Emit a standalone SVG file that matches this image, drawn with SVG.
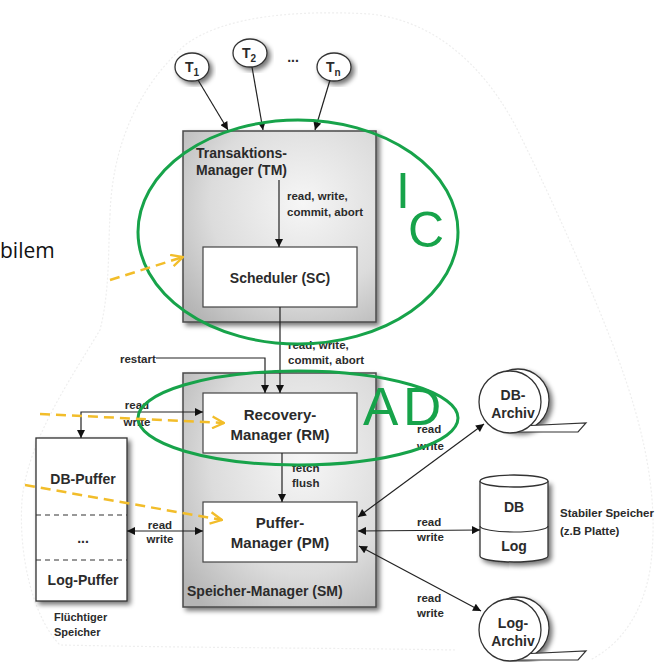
<svg xmlns="http://www.w3.org/2000/svg" width="664" height="662" viewBox="0 0 664 662">
<defs>
<style>
.t{font-family:"Liberation Sans",Arial,sans-serif;font-weight:bold;fill:#2b2b2b}
.s{font-size:11.5px}
.m{font-size:14px}
.l{font-size:15px}
.c{text-anchor:middle}
.ln{stroke:#222;stroke-width:1.2;fill:none}
.gray{fill:url(#gg);stroke:#4a4a4a;stroke-width:1.5}
.wb{fill:#fff;stroke:#444;stroke-width:1.2}
.grn{fill:none;stroke:#17a34a;stroke-width:3}
.gl{font-family:"Liberation Sans",Arial,sans-serif;fill:#17a34a}
.yd{fill:none;stroke:#f2bd2a;stroke-width:2.5;stroke-dasharray:10 6}
</style>
<radialGradient id="gg" cx="0.62" cy="0.38" r="0.8">
<stop offset="0" stop-color="#f6f6f6"/>
<stop offset="0.6" stop-color="#dcdcdc"/>
<stop offset="1" stop-color="#b5b5b5"/>
</radialGradient>
<filter id="sh" x="-20%" y="-20%" width="140%" height="140%">
<feGaussianBlur in="SourceAlpha" stdDeviation="2.5"/>
<feOffset dx="3" dy="3" result="b"/>
<feComponentTransfer><feFuncA type="linear" slope="0.55"/></feComponentTransfer>
<feMerge><feMergeNode/><feMergeNode in="SourceGraphic"/></feMerge>
</filter>
<marker id="ah" viewBox="0 0 10 10" refX="10" refY="5" markerWidth="9" markerHeight="8" markerUnits="userSpaceOnUse" orient="auto-start-reverse">
<path d="M0,0 L10,5 L0,10 z" fill="#111"/>
</marker>
<marker id="ya" viewBox="0 0 12 12" refX="11" refY="6" markerWidth="14" markerHeight="14" markerUnits="userSpaceOnUse" orient="auto">
<path d="M1,1 L11,6 L1,11" fill="none" stroke="#f2bd2a" stroke-width="2"/>
</marker>
</defs>
<rect width="664" height="662" fill="#fff"/>

<!-- faint outline -->
<path d="M110,215 C112,150 135,90 185,45 C225,15 300,10 370,14 C430,20 480,60 515,125 C545,185 580,260 615,350 C645,430 660,500 650,570 C642,615 620,645 590,660 M455,650 C350,648 200,648 60,645 C35,620 18,560 22,500 C28,440 70,380 100,330 C110,290 108,250 110,215" fill="none" stroke="#eeeeee" stroke-width="1.2" stroke-dasharray="2 2"/>

<text x="0" y="258" font-family="'Open Sans','Liberation Sans',sans-serif" font-size="21" fill="#111">bilem</text>

<g id="tm">
<rect class="gray" x="183" y="131" width="193" height="191" filter="url(#sh)"/>
<text class="t m" x="196" y="158">Transaktions-</text>
<text class="t m" x="196" y="175">Manager (TM)</text>
</g>
<g id="sc">
<rect class="wb" x="203" y="247" width="154" height="60"/>
<text class="t m c" x="280" y="283">Scheduler (SC)</text>
</g>
<g id="sm">
<rect class="gray" x="183" y="373" width="193" height="234" filter="url(#sh)"/>
<text class="t m" x="187" y="596">Speicher-Manager (SM)</text>
</g>
<g id="rm">
<rect class="wb" x="203" y="393" width="154" height="60"/>
<text class="t l c" x="280" y="420">Recovery-</text>
<text class="t l c" x="280" y="440">Manager (RM)</text>
</g>
<g id="pm">
<rect class="wb" x="203" y="502" width="154" height="60"/>
<text class="t l c" x="280" y="528">Puffer-</text>
<text class="t l c" x="280" y="548">Manager (PM)</text>
</g>
<g id="buffer">
<rect x="36" y="438" width="91" height="163" fill="#fff" stroke="#333" stroke-width="1.3" filter="url(#sh)"/>
<line x1="36" y1="515" x2="127" y2="515" stroke="#333" stroke-width="1.2" stroke-dasharray="5 4"/>
<line x1="36" y1="560" x2="127" y2="560" stroke="#333" stroke-width="1.2" stroke-dasharray="5 4"/>
<text class="t m c" x="83" y="484">DB-Puffer</text>
<text class="t m c" x="83" y="543">...</text>
<text class="t m c" x="83" y="585">Log-Puffer</text>
<text class="t" font-size="11" x="54" y="621">Flüchtiger</text>
<text class="t" font-size="11" x="54" y="636">Speicher</text>
</g>
<g id="t1">
<ellipse cx="192" cy="67" rx="17" ry="14" fill="#fff" stroke="#333" stroke-width="1.3" filter="url(#sh)"/>
<text class="t" font-size="14" x="185" y="72">T<tspan font-size="10" dy="4">1</tspan></text>
</g>
<g id="t2">
<ellipse cx="250" cy="53" rx="17" ry="14" fill="#fff" stroke="#333" stroke-width="1.3" filter="url(#sh)"/>
<text class="t" font-size="14" x="242" y="58">T<tspan font-size="10" dy="4">2</tspan></text>
</g>
<text class="t m c" x="293" y="62">...</text>
<g id="tn">
<ellipse cx="334" cy="67" rx="17" ry="14" fill="#fff" stroke="#333" stroke-width="1.3" filter="url(#sh)"/>
<text class="t" font-size="14" x="326" y="72">T<tspan font-size="10" dy="4">n</tspan></text>
</g>
<g id="dbarchiv">
<circle cx="518" cy="400" r="31" fill="#fff" stroke="#333" stroke-width="1.3" filter="url(#sh)"/>
<path d="M520,426 L586,423 L578,432 L508,432 Z" fill="#fff" stroke="#333" stroke-width="1.2"/>
<circle cx="510" cy="402" r="31" fill="#fff" stroke="#333" stroke-width="1.3"/>
<text class="t m c" x="513" y="400">DB-</text>
<text class="t m c" x="513" y="418">Archiv</text>
</g>
<g id="disk">
<path d="M480,481 L480,556 A34,6 0 0 0 548,556 L548,481" fill="#fff" stroke="#333" stroke-width="1.3" filter="url(#sh)"/>
<ellipse cx="514" cy="481" rx="34" ry="6" fill="#fff" stroke="#333" stroke-width="1.3"/>
<path d="M480,526 A34,6 0 0 0 548,526" fill="none" stroke="#333" stroke-width="1.2"/>
<text class="t m c" x="514" y="512">DB</text>
<text class="t m c" x="514" y="551">Log</text>
<text class="t s" x="560" y="517">Stabiler Speicher</text>
<text class="t s" x="560" y="535">(z.B Platte)</text>
</g>
<g id="logarchiv">
<circle cx="518" cy="628" r="31" fill="#fff" stroke="#333" stroke-width="1.3" filter="url(#sh)"/>
<path d="M520,654 L586,651 L578,660 L508,660 Z" fill="#fff" stroke="#333" stroke-width="1.2"/>
<circle cx="510" cy="630" r="31" fill="#fff" stroke="#333" stroke-width="1.3"/>
<text class="t m c" x="513" y="628">Log-</text>
<text class="t m c" x="513" y="646">Archiv</text>
</g>

<g id="connectors">
<line class="ln" x1="198" y1="80" x2="228" y2="130" marker-end="url(#ah)"/>
<line class="ln" x1="252" y1="67" x2="263" y2="130" marker-end="url(#ah)"/>
<line class="ln" x1="330" y1="80" x2="315" y2="130" marker-end="url(#ah)"/>
<line class="ln" x1="279" y1="180" x2="279" y2="247" marker-end="url(#ah)"/>
<line class="ln" x1="280" y1="307" x2="280" y2="393" marker-end="url(#ah)"/>
<polyline class="ln" points="156,358 265,358 265,393" marker-end="url(#ah)"/>
<line class="ln" x1="282" y1="453" x2="282" y2="502" marker-end="url(#ah)"/>
<polyline class="ln" points="203,412 81,412 81,438" marker-start="url(#ah)" marker-end="url(#ah)"/>
<line class="ln" x1="127" y1="531" x2="203" y2="531" marker-start="url(#ah)" marker-end="url(#ah)"/>
<line class="ln" x1="358" y1="517" x2="484" y2="424" marker-start="url(#ah)" marker-end="url(#ah)"/>
<line class="ln" x1="358" y1="531" x2="480" y2="530" marker-start="url(#ah)" marker-end="url(#ah)"/>
<line class="ln" x1="359" y1="546" x2="481" y2="611" marker-start="url(#ah)" marker-end="url(#ah)"/>
</g>
<g id="labels">
<text class="t s" x="287" y="200">read, write,</text>
<text class="t s" x="287" y="216">commit, abort</text>
<text class="t s" x="288" y="349">read, write,</text>
<text class="t s" x="288" y="364">commit, abort</text>
<text class="t s" x="120" y="363">restart</text>
<text class="t s c" x="137" y="409">read</text>
<text class="t s c" x="137" y="426">write</text>
<text class="t s c" x="160" y="529">read</text>
<text class="t s c" x="160" y="543">write</text>
<text class="t s" x="292" y="472">fetch</text>
<text class="t s" x="292" y="487">flush</text>
<text class="t s" x="417" y="433">read</text>
<text class="t s" x="417" y="450">write</text>
<text class="t s" x="417" y="526">read</text>
<text class="t s" x="417" y="541">write</text>
<text class="t s" x="417" y="602">read</text>
<text class="t s" x="417" y="617">write</text>
</g>

<g id="ic">
<ellipse class="grn" cx="298" cy="232" rx="160" ry="112"/>
<text class="gl" font-size="50" x="396" y="208">I</text>
<text class="gl" font-size="50" x="408" y="247">C</text>
</g>
<g id="ad">
<ellipse class="grn" cx="298" cy="418" rx="160" ry="47"/>
<text class="gl" font-size="53" x="363" y="425">A</text>
<text class="gl" font-size="53" x="403" y="425">D</text>
</g>

<g id="yellow">
<line class="yd" x1="110" y1="280" x2="183" y2="257" marker-end="url(#ya)"/>
<line class="yd" x1="40" y1="414" x2="224" y2="423" marker-end="url(#ya)"/>
<line class="yd" x1="25" y1="485" x2="222" y2="520" marker-end="url(#ya)"/>
</g>
</svg>
